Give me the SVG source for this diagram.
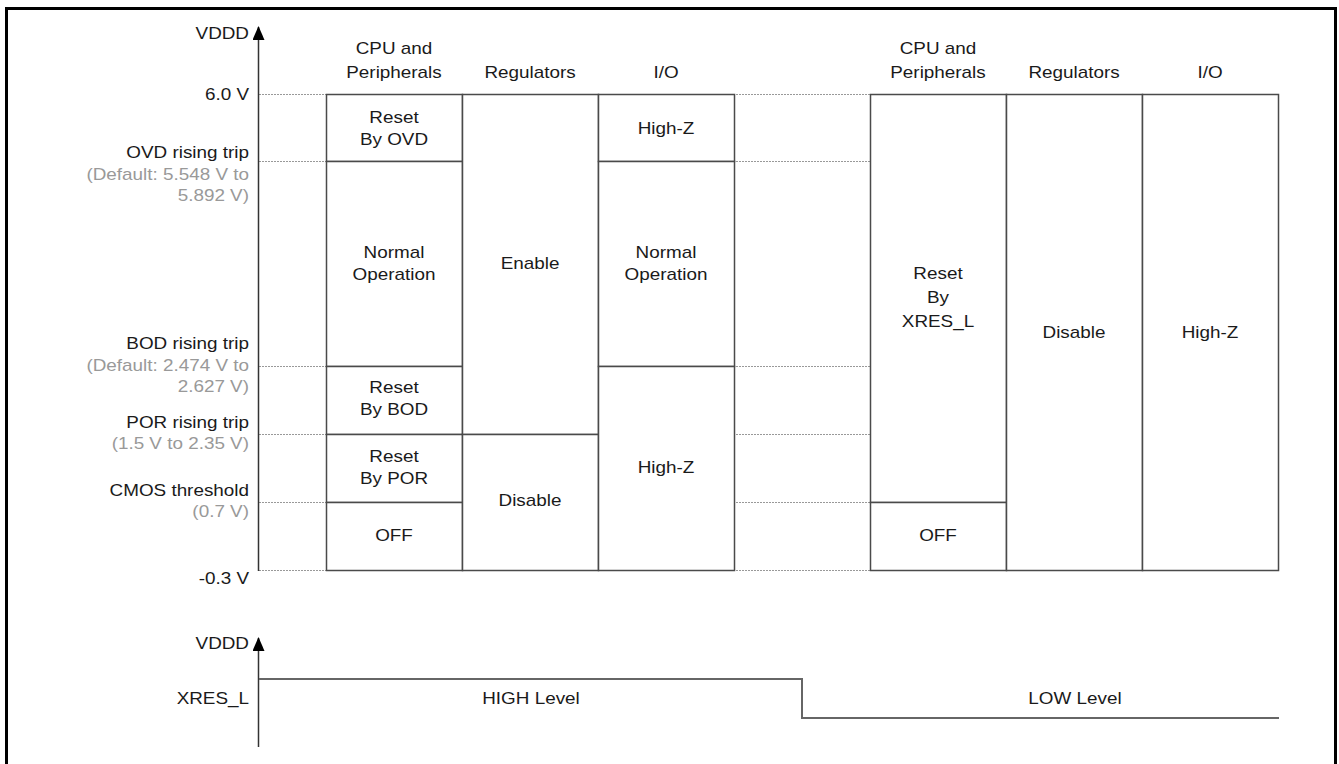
<svg xmlns="http://www.w3.org/2000/svg" width="1339" height="764" viewBox="0 0 1339 764">
<style>
text{font-family:"Liberation Sans",Arial,sans-serif;font-size:16px;fill:#1a1a1a}
.r{text-anchor:end}
.c{text-anchor:middle}
.g{fill:#999}
.box{fill:#fff;stroke:#4a4a4a;stroke-width:1.5}
.dot{stroke:#999;stroke-width:1;stroke-dasharray:2 1}
.ax{stroke:#333;stroke-width:1.5;fill:none}
.sig{stroke:#666;stroke-width:2;fill:none}
</style>
<defs>
<marker id="arr" viewBox="0 0 14 12" refX="13" refY="6" markerWidth="14" markerHeight="12" markerUnits="userSpaceOnUse" orient="auto">
<path d="M0,0 L14,6 L0,12 Z" fill="#000"/>
</marker>
</defs>
<rect x="6.5" y="8.5" width="1329" height="800" fill="#fff" stroke="#000" stroke-width="3"/>
<g id="connectors">
<g id="gridlines">
<line class="dot" x1="259" y1="94.5" x2="870" y2="94.5"/>
<line class="dot" x1="259" y1="161.5" x2="870" y2="161.5"/>
<line class="dot" x1="259" y1="366.5" x2="870" y2="366.5"/>
<line class="dot" x1="259" y1="434.5" x2="870" y2="434.5"/>
<line class="dot" x1="259" y1="502.5" x2="870" y2="502.5"/>
<line class="dot" x1="259" y1="570.5" x2="870" y2="570.5"/>
</g>
<line id="axis-top" class="ax" x1="258.5" y1="571" x2="258.5" y2="27" marker-end="url(#arr)"/>
<line id="axis-bottom" class="ax" x1="258.5" y1="747" x2="258.5" y2="638" marker-end="url(#arr)"/>
<polyline id="xres-signal" class="sig" points="259,679 802,679 802,718 1279,718"/>
</g>
<g id="axis-labels">
<text class="r" transform="matrix(1.18 0 0 1 249 39)">VDDD</text>
<text class="r" transform="matrix(1.18 0 0 1 249 100)">6.0 V</text>
<text class="r" transform="matrix(1.18 0 0 1 249 158)">OVD rising trip</text>
<text class="r g" transform="matrix(1.18 0 0 1 249 180)">(Default: 5.548 V to</text>
<text class="r g" transform="matrix(1.18 0 0 1 249 201)">5.892 V)</text>
<text class="r" transform="matrix(1.18 0 0 1 249 349)">BOD rising trip</text>
<text class="r g" transform="matrix(1.18 0 0 1 249 371)">(Default: 2.474 V to</text>
<text class="r g" transform="matrix(1.18 0 0 1 249 392)">2.627 V)</text>
<text class="r" transform="matrix(1.18 0 0 1 249 428)">POR rising trip</text>
<text class="r g" transform="matrix(1.18 0 0 1 249 449)">(1.5 V to 2.35 V)</text>
<text class="r" transform="matrix(1.18 0 0 1 249 496)">CMOS threshold</text>
<text class="r g" transform="matrix(1.18 0 0 1 249 517)">(0.7 V)</text>
<text class="r" transform="matrix(1.18 0 0 1 249 584)">-0.3 V</text>
<text class="r" transform="matrix(1.18 0 0 1 249 649)">VDDD</text>
<text class="r" transform="matrix(1.18 0 0 1 249 704)">XRES_L</text>
</g>
<g id="headers">
<text class="c" transform="matrix(1.18 0 0 1 394 54)">CPU and</text>
<text class="c" transform="matrix(1.18 0 0 1 394 78)">Peripherals</text>
<text class="c" transform="matrix(1.18 0 0 1 530 78)">Regulators</text>
<text class="c" transform="matrix(1.18 0 0 1 666 78)">I/O</text>
<text class="c" transform="matrix(1.18 0 0 1 938 54)">CPU and</text>
<text class="c" transform="matrix(1.18 0 0 1 938 78)">Peripherals</text>
<text class="c" transform="matrix(1.18 0 0 1 1074 78)">Regulators</text>
<text class="c" transform="matrix(1.18 0 0 1 1210 78)">I/O</text>
</g>
<g id="cpu-reset-ovd"><rect class="box" x="326.5" y="94.5" width="136" height="67"/><text class="c" transform="matrix(1.18 0 0 1 394 123)">Reset</text><text class="c" transform="matrix(1.18 0 0 1 394 145)">By OVD</text></g>
<g id="cpu-normal"><rect class="box" x="326.5" y="161.5" width="136" height="205"/><text class="c" transform="matrix(1.18 0 0 1 394 258)">Normal</text><text class="c" transform="matrix(1.18 0 0 1 394 280)">Operation</text></g>
<g id="cpu-reset-bod"><rect class="box" x="326.5" y="366.5" width="136" height="68"/><text class="c" transform="matrix(1.18 0 0 1 394 393)">Reset</text><text class="c" transform="matrix(1.18 0 0 1 394 415)">By BOD</text></g>
<g id="cpu-reset-por"><rect class="box" x="326.5" y="434.5" width="136" height="68"/><text class="c" transform="matrix(1.18 0 0 1 394 462)">Reset</text><text class="c" transform="matrix(1.18 0 0 1 394 484)">By POR</text></g>
<g id="cpu-off"><rect class="box" x="326.5" y="502.5" width="136" height="68"/><text class="c" transform="matrix(1.18 0 0 1 394 541)">OFF</text></g>
<g id="reg-enable"><rect class="box" x="462.5" y="94.5" width="136" height="340"/><text class="c" transform="matrix(1.18 0 0 1 530 269)">Enable</text></g>
<g id="reg-disable"><rect class="box" x="462.5" y="434.5" width="136" height="136"/><text class="c" transform="matrix(1.18 0 0 1 530 506)">Disable</text></g>
<g id="io-highz-top"><rect class="box" x="598.5" y="94.5" width="136" height="67"/><text class="c" transform="matrix(1.18 0 0 1 666 134)">High-Z</text></g>
<g id="io-normal"><rect class="box" x="598.5" y="161.5" width="136" height="205"/><text class="c" transform="matrix(1.18 0 0 1 666 258)">Normal</text><text class="c" transform="matrix(1.18 0 0 1 666 280)">Operation</text></g>
<g id="io-highz-bottom"><rect class="box" x="598.5" y="366.5" width="136" height="204"/><text class="c" transform="matrix(1.18 0 0 1 666 473)">High-Z</text></g>
<g id="r-cpu-reset-xres"><rect class="box" x="870.5" y="94.5" width="136" height="408"/><text class="c" transform="matrix(1.18 0 0 1 938 279)">Reset</text><text class="c" transform="matrix(1.18 0 0 1 938 303)">By</text><text class="c" transform="matrix(1.18 0 0 1 938 327)">XRES_L</text></g>
<g id="r-cpu-off"><rect class="box" x="870.5" y="502.5" width="136" height="68"/><text class="c" transform="matrix(1.18 0 0 1 938 541)">OFF</text></g>
<g id="r-reg-disable"><rect class="box" x="1006.5" y="94.5" width="136" height="476"/><text class="c" transform="matrix(1.18 0 0 1 1074 338)">Disable</text></g>
<g id="r-io-highz"><rect class="box" x="1142.5" y="94.5" width="136" height="476"/><text class="c" transform="matrix(1.18 0 0 1 1210 338)">High-Z</text></g>
<g id="levels">
<text class="c" transform="matrix(1.18 0 0 1 531 704)">HIGH Level</text>
<text class="c" transform="matrix(1.18 0 0 1 1075 704)">LOW Level</text>
</g>
</svg>
